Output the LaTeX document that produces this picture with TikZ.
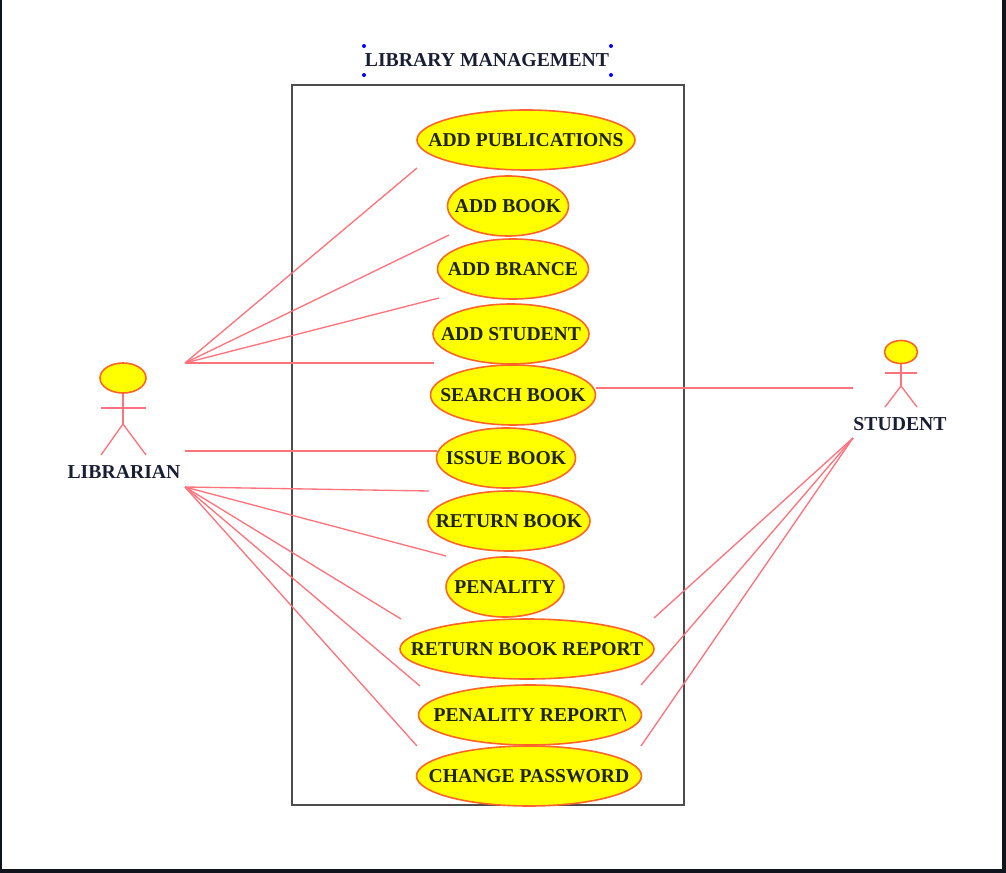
\documentclass[tikz,border=0pt]{standalone}
\usepackage{fontspec}
\usetikzlibrary{shapes.geometric}
\setmainfont{Liberation Serif}
\definecolor{linered}{RGB}{255,115,125}
\definecolor{rimred}{RGB}{255,100,40}
\definecolor{caseyellow}{RGB}{255,255,0}
\definecolor{framedark}{RGB}{16,20,28}
\definecolor{casetext}{RGB}{30,35,0}
\definecolor{nametext}{RGB}{25,30,50}
\tikzset{
  usecase/.style={ellipse,draw=rimred,fill=caseyellow,line width=1.2pt,inner xsep=-30pt,inner ysep=0pt,minimum height=45pt,font=\fontsize{14.7}{16}\selectfont\bfseries,text=casetext},
  assoc/.style={draw=linered,line width=1pt},
  head/.style={ellipse,draw=rimred,fill=caseyellow,line width=1.2pt,inner sep=0pt},
  actorname/.style={font=\fontsize{14.8}{16}\selectfont\bfseries,text=nametext,inner sep=0pt},
  handle/.style={circle,fill=blue,inner sep=0pt,minimum size=3pt}
}
\begin{document}
\begin{tikzpicture}[x=0.75pt,y=-0.75pt]
\useasboundingbox (0,0) rectangle (1006,873);
% outer frame
\fill[framedark] (0,0) rectangle (1006,873);
\fill[white] (1.5,0) rectangle (1002,869);
% system box
\draw[black!70,line width=0.9pt] (292,85) rectangle (684,805);
\node[actorname] (title) at (487,60) {LIBRARY MANAGEMENT};
\node[handle] (h1) at (364,46) {};
\node[handle] (h2) at (611,46) {};
\node[handle] (h3) at (364,75) {};
\node[handle] (h4) at (611,75) {};
% use cases
\node[usecase,minimum width=163.5pt] (addpub) at (526,140) {ADD PUBLICATIONS};
\node[usecase,minimum width=90.75pt] (addbook) at (508,206) {ADD BOOK};
\node[usecase,minimum width=113.25pt] (addbranch) at (513,269) {ADD BRANCE};
\node[usecase,minimum width=117pt] (addstudent) at (511,334) {ADD STUDENT};
\node[usecase,minimum width=123.75pt] (search) at (513,395) {SEARCH BOOK};
\node[usecase,minimum width=104.25pt] (issue) at (506,458) {ISSUE BOOK};
\node[usecase,minimum width=121.5pt] (return) at (509,521) {RETURN BOOK};
\node[usecase,minimum width=88.5pt] (penalty) at (505,587) {PENALITY};
\node[usecase,minimum width=190.5pt] (returnrep) at (527,649) {RETURN BOOK REPORT};
\node[usecase,minimum width=167.25pt] (penaltyrep) at (530,715) {PENALITY REPORT\textbackslash};
\node[usecase,minimum width=168.75pt] (password) at (529,776) {CHANGE PASSWORD};
% librarian
\node[head,minimum width=34.5pt,minimum height=22.5pt] (libhead) at (123,378) {};
\coordinate (libneck) at (123,424);
\coordinate (libarml) at (101,408);
\coordinate (libarmr) at (146,408);
\coordinate (libfootl) at (101,455);
\coordinate (libfootr) at (146,455);
\draw[assoc] (libhead) -- (libneck);
\draw[assoc] (libarml) -- (libarmr);
\draw[assoc] (libfootl) -- (libneck) -- (libfootr);
\node[actorname] (librarian) at (124,472) {LIBRARIAN};
% student
\node[head,minimum width=24.75pt,minimum height=17.25pt] (stuhead) at (901,352) {};
\coordinate (stuneck) at (901,386);
\coordinate (stuarml) at (885,373);
\coordinate (stuarmr) at (917,373);
\coordinate (stufootl) at (885,407);
\coordinate (stufootr) at (917,407);
\draw[assoc] (stuhead) -- (stuneck);
\draw[assoc] (stuarml) -- (stuarmr);
\draw[assoc] (stufootl) -- (stuneck) -- (stufootr);
\node[actorname] (student) at (900,424) {STUDENT};
% connector ends
\coordinate (liba) at (185,363);
\coordinate (libb) at (185,451);
\coordinate (libc) at (185,487);
\coordinate (stua) at (853,388);
\coordinate (stub) at (853,438);
\coordinate (addpubend) at (417,168);
\coordinate (addbookend) at (449,235);
\coordinate (addbranchend) at (439,298);
\coordinate (addstudentend) at (434,363);
\coordinate (issueend) at (437,451);
\coordinate (returnend) at (429,491);
\coordinate (penaltyend) at (446,556);
\coordinate (returnrepend) at (401,619);
\coordinate (penaltyrepend) at (420,686);
\coordinate (passwordend) at (417,746);
\coordinate (searchend) at (596,388);
\coordinate (returnrepright) at (654,618);
\coordinate (penaltyrepright) at (641,685);
\coordinate (passwordright) at (641,746);
% associations
\draw[assoc] (liba) -- (addpubend);
\draw[assoc] (liba) -- (addbookend);
\draw[assoc] (liba) -- (addbranchend);
\draw[assoc] (liba) -- (addstudentend);
\draw[assoc] (libb) -- (issueend);
\draw[assoc] (libc) -- (returnend);
\draw[assoc] (libc) -- (penaltyend);
\draw[assoc] (libc) -- (returnrepend);
\draw[assoc] (libc) -- (penaltyrepend);
\draw[assoc] (libc) -- (passwordend);
\draw[assoc] (searchend) -- (stua);
\draw[assoc] (stub) -- (returnrepright);
\draw[assoc] (stub) -- (penaltyrepright);
\draw[assoc] (stub) -- (passwordright);
\end{tikzpicture}
\end{document}
